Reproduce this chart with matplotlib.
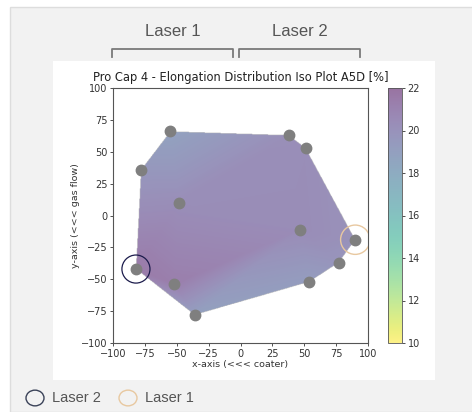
import numpy as np
import matplotlib
matplotlib.use("Agg")
import matplotlib.pyplot as plt
import matplotlib.tri as mtri
from matplotlib.patches import Rectangle, Circle
from matplotlib.lines import Line2D

# measurement points (x, y) and elongation values A5D [%]
x_pts = [-55, 38, 51, -78, -48, 47, 90, 77, -82, -52, 54, -36]
y_pts = [66, 63, 53, 36, 10, -11, -19, -37, -42, -54, -52, -78]
a5d = [18.8, 20.2, 20.3, 19.6, 20.3, 20.4, 20.0, 19.8, 21.5, 21.3, 19.2, 19.0]

laser2_pt = (-82, -42)
laser1_pt = (90, -19)
ticks = [-100, -75, -50, -25, 0, 25, 50, 75, 100]
cbar_ticks = [10, 12, 14, 16, 18, 20, 22]

W, H = 472, 412
fig = plt.figure(figsize=(W / 100, H / 100), dpi=100)
fig.patch.set_facecolor('white')

def fx(px):
    return px / W

def fy(py):
    return 1 - py / H

# page background and white panel
fig.patches.append(Rectangle((fx(10), 0), 1, fy(7), transform=fig.transFigure,
                             facecolor='#f2f2f2', edgecolor='#dddddd', lw=1, zorder=-10))
fig.patches.append(Rectangle((fx(53), fy(380)), fx(435) - fx(53), fy(61) - fy(380),
                             transform=fig.transFigure, facecolor='white',
                             edgecolor='none', zorder=-9))

ax = fig.add_axes([fx(113), fy(343), fx(368) - fx(113), fy(88) - fy(343)])
cax = fig.add_axes([fx(388), fy(343), fx(402) - fx(388), fy(88) - fy(343)])

# linear interpolation over the triangulated hull
tri = mtri.Triangulation(x_pts, y_pts)
interp = mtri.LinearTriInterpolator(tri, np.array(a5d, dtype=float))
gx, gy = np.meshgrid(np.linspace(-100, 100, 500), np.linspace(-100, 100, 500))
gz = interp(gx, gy)
im = ax.imshow(gz, extent=(-100, 100, -100, 100), origin='lower', cmap='viridis_r',
               alpha=0.55, vmin=10, vmax=22, interpolation='bilinear', aspect='auto')
ax.plot(x_pts, y_pts, 'o', color='#7f7f7f', markersize=7.5, zorder=3)

ax.add_patch(Circle(laser2_pt, 11, fill=False, edgecolor='#1c1c4c', lw=0.9, zorder=4))
ax.add_patch(Circle(laser1_pt, 11.5, fill=False, edgecolor='#e8c8a0', lw=1.0, zorder=4))

ax.set_xlim(-100, 100)
ax.set_ylim(-100, 100)
ax.set_xticks(ticks)
ax.set_yticks(ticks)
ax.tick_params(labelsize=7, length=2.5, width=0.6, pad=1.5, colors='#333333')
for s in ax.spines.values():
    s.set_color('#555555')
    s.set_linewidth(0.8)
ax.set_xlabel('x-axis (<<< coater)', fontsize=6.8, labelpad=1, color='#333333')
ax.set_ylabel('y-axis (<<< gas flow)', fontsize=6.8, labelpad=1, color='#333333')
ax.set_title('Pro Cap 4 - Elongation Distribution Iso Plot A5D [%]', fontsize=8.3,
             pad=5, color='#222222')

cb = fig.colorbar(im, cax=cax, ticks=cbar_ticks)
cb.ax.tick_params(labelsize=7, length=2.5, width=0.6, pad=1.5, colors='#333333')
cb.outline.set_edgecolor('#555555')
cb.outline.set_linewidth(0.6)

# brackets and labels above the chart
bracket_color = '#7a7a7a'
for x0, x1, label in [(112, 233, 'Laser 1'), (239, 360, 'Laser 2')]:
    fig.add_artist(Line2D([fx(x0), fx(x0), fx(x1), fx(x1)],
                          [fy(57), fy(49), fy(49), fy(57)],
                          transform=fig.transFigure, color=bracket_color, lw=1.3))
    fig.text(fx((x0 + x1) / 2), fy(32), label, ha='center', va='center',
             fontsize=12, color='#555555', family='Liberation Sans')

# legend at bottom
for cx, tx, col, label in [(35, 52, '#3a4258', 'Laser 2'), (128, 145, '#e8c8a0', 'Laser 1')]:
    fig.add_artist(Circle((fx(cx), fy(398)), 9 / W, transform=fig.transFigure,
                          fill=False, edgecolor=col, lw=1.0))
    fig.text(fx(tx), fy(398), label, ha='left', va='center', fontsize=10.5,
             color='#555555', family='Liberation Sans')

fig.savefig('out.png', dpi=100)
